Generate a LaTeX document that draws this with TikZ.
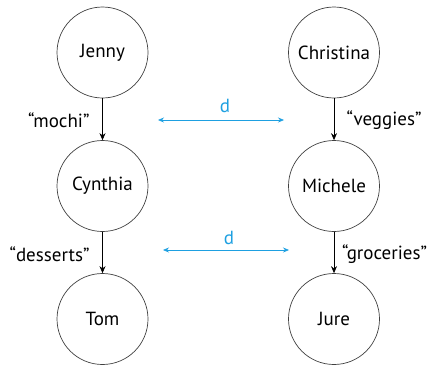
\documentclass[tikz,border=0pt]{standalone}
\usepackage{fontspec}
\setmainfont{PT Sans}
\usetikzlibrary{arrows.meta}
\definecolor{dblue}{RGB}{30,160,225}
\begin{document}
\begin{tikzpicture}[x=1pt,y=-1pt,
  person/.style={circle,draw=black!75,line width=0.7pt,minimum size=91pt,inner sep=0pt,font=\fontsize{19}{22}\selectfont},
  edge/.style={draw=black,line width=0.7pt,-{Stealth[length=7pt,width=6pt]}},
  lbl/.style={font=\fontsize{19}{22}\selectfont},
  dist/.style={draw=dblue,line width=0.7pt,{Stealth[length=6pt,width=5pt]}-{Stealth[length=6pt,width=5pt]}},
  dlbl/.style={text=dblue,font=\fontsize{19}{22}\selectfont}]
\useasboundingbox (0,0) rectangle (430,364);
\node[person] (jenny) at (102.5,52.5) {Jenny};
\node[person] (cynthia) at (102.5,186) {Cynthia};
\node[person] (tom) at (102.5,319) {Tom};
\node[person] (christina) at (334,52.5) {Christina};
\node[person] (michele) at (334,186) {Michele};
\node[person] (jure) at (334,319) {Jure};
\draw[edge] (jenny) -- (cynthia);
\draw[edge] (cynthia) -- (tom);
\draw[edge] (christina) -- (michele);
\draw[edge] (michele) -- (jure);
\node[lbl,anchor=east] (m) at (93,120) {“mochi”};
\node[lbl,anchor=east] (ds) at (93,254) {“desserts”};
\node[lbl,anchor=west] (v) at (343,120) {“veggies”};
\node[lbl,anchor=west,inner xsep=1pt] (g) at (341,254) {“groceries”};
\coordinate (a1) at (158,120);
\coordinate (b1) at (284,120);
\coordinate (a2) at (163,250);
\coordinate (b2) at (289,250);
\draw[dist] (a1) -- (b1);
\draw[dist] (a2) -- (b2);
\node[dlbl] (d1) at (225,106) {d};
\node[dlbl] (d2) at (229,238) {d};
\end{tikzpicture}
\end{document}
